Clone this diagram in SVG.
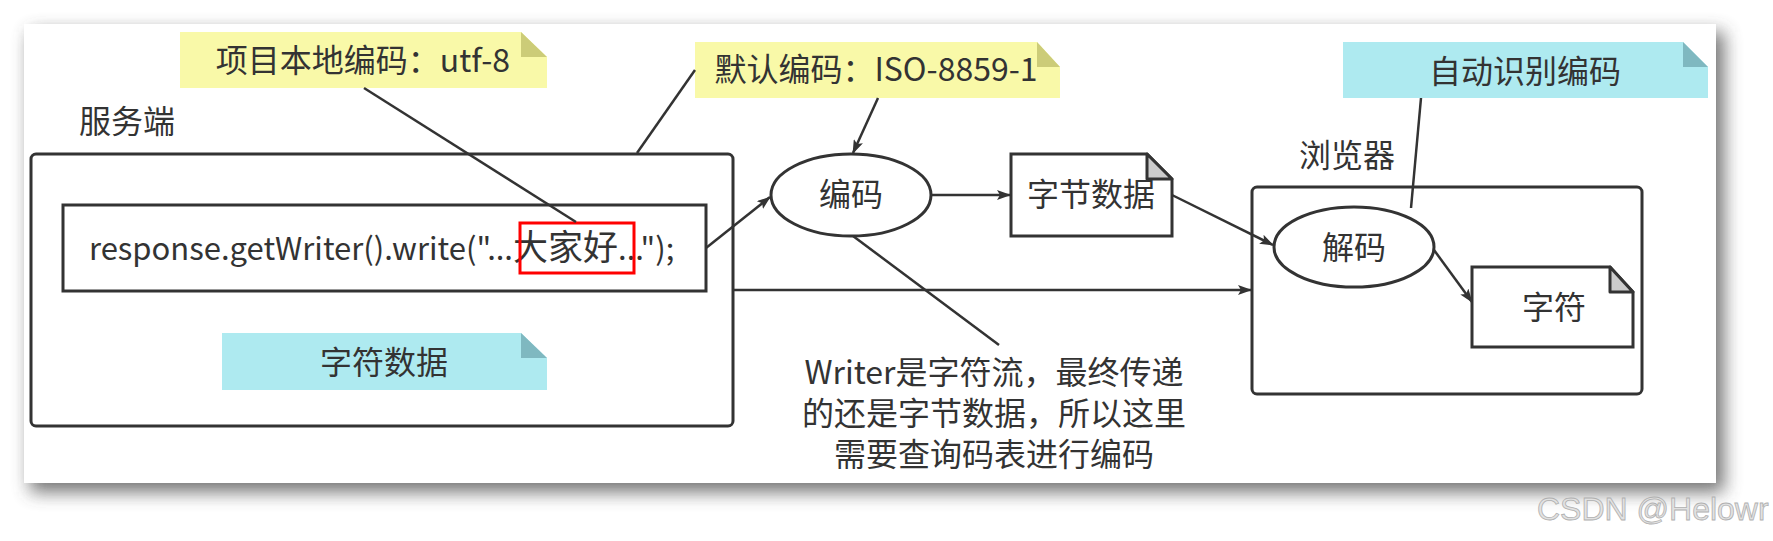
<svg xmlns="http://www.w3.org/2000/svg" width="1773" height="541" viewBox="0 0 1773 541">
<defs>
<filter id="shadow" x="-10%" y="-20%" width="120%" height="140%">
<feGaussianBlur stdDeviation="9"/>
</filter>
<marker id="arr" viewBox="0 0 14 10" refX="13" refY="5" markerWidth="14" markerHeight="10" orient="auto" markerUnits="userSpaceOnUse">
<path d="M0,0 L14,5 L0,10 L3,5 Z" fill="#333"/>
</marker>
</defs>
<style>
.t{font-family:"Microsoft YaHei","Noto Sans CJK SC","Noto Sans",sans-serif;font-size:32px;fill:#333;}
.c{text-anchor:middle;}
.box{fill:#fff;stroke:#333;stroke-width:3;}
.ln{fill:none;stroke:#333;stroke-width:2.5;}
.yl{fill:#f9f9a8;}
.yf{fill:#cccc78;}
.cy{fill:#aeeaf0;}
.cf{fill:#7fb8c0;}
</style>
<rect width="1773" height="541" fill="#fff"/>
<rect x="30" y="32" width="1694" height="460" fill="#444" opacity="0.75" filter="url(#shadow)"/>
<rect x="24" y="24" width="1692" height="459" fill="#fff"/>

<g id="server">
<text class="t c" x="127" y="133">服务端</text>
<rect class="box" x="31" y="154" width="702" height="272" rx="5"/>
</g>
<g id="code">
<rect class="box" x="63" y="205" width="643" height="86"/>
<text class="t" x="89" y="260" style="font-size:31px">response.getWriter().write("...<tspan style="font-size:35px">大家好</tspan>...");</text>
<rect x="520" y="223" width="114" height="50" fill="none" stroke="#f00" stroke-width="3"/>
</g>
<g id="note-utf8">
<path class="yl" d="M180,32 H521 L547,57 V88 H180 Z"/>
<path class="yf" d="M521,32 L547,57 H521 Z"/>
<text class="t c" x="363" y="72">项目本地编码：utf-8</text>
</g>
<g id="note-iso">
<path class="yl" d="M695,42 H1037 L1060,67 V98 H695 Z"/>
<path class="yf" d="M1037,42 L1060,67 H1037 Z"/>
<text class="t c" x="876" y="81">默认编码：ISO-8859-1</text>
</g>
<g id="note-chardata">
<path class="cy" d="M222,333 H521 L547,358 V390 H222 Z"/>
<path class="cf" d="M521,333 L547,358 H521 Z"/>
<text class="t c" x="384" y="374">字符数据</text>
</g>
<g id="encode">
<ellipse class="box" cx="851" cy="195" rx="80" ry="41"/>
<text class="t c" x="851" y="206">编码</text>
</g>
<g id="bytes">
<path class="box" d="M1011,154 H1147 L1172,179 V236 H1011 Z"/>
<path d="M1147,154 L1172,179 H1147 Z" fill="#ccc" stroke="#333" stroke-width="3" stroke-linejoin="round"/>
<text class="t c" x="1091" y="206">字节数据</text>
</g>
<g id="browser">
<text class="t c" x="1347" y="167">浏览器</text>
<rect class="box" x="1252" y="187" width="390" height="207" rx="5"/>
</g>
<g id="note-auto">
<path class="cy" d="M1343,42 H1683 L1708,67 V98 H1343 Z"/>
<path class="cf" d="M1683,42 L1708,67 H1683 Z"/>
<text class="t c" x="1525" y="83">自动识别编码</text>
</g>
<g id="decode">
<ellipse class="box" cx="1354" cy="247" rx="80" ry="40"/>
<text class="t c" x="1354" y="259">解码</text>
</g>
<g id="chars">
<path class="box" d="M1472,267 H1610 L1633,292 V347 H1472 Z"/>
<path d="M1610,267 L1633,292 H1610 Z" fill="#ccc" stroke="#333" stroke-width="3" stroke-linejoin="round"/>
<text class="t c" x="1554" y="319">字符</text>
</g>
<g id="comment">
<text class="t c" x="994" y="384">Writer是字符流，最终传递</text>
<text class="t c" x="994" y="425">的还是字节数据，所以这里</text>
<text class="t c" x="994" y="466">需要查询码表进行编码</text>
</g>
<g id="connectors">
<line class="ln" x1="364" y1="88" x2="576" y2="222"/>
<line class="ln" x1="695" y1="70" x2="637" y2="153"/>
<line class="ln" x1="878" y1="98" x2="853" y2="153" marker-end="url(#arr)"/>
<line class="ln" x1="706" y1="248" x2="770" y2="197" marker-end="url(#arr)"/>
<line class="ln" x1="931" y1="195" x2="1010" y2="195" marker-end="url(#arr)"/>
<line class="ln" x1="853" y1="236" x2="999" y2="345"/>
<line class="ln" x1="1172" y1="195" x2="1273" y2="245" marker-end="url(#arr)"/>
<line class="ln" x1="733" y1="290" x2="1251" y2="290" marker-end="url(#arr)"/>
<line class="ln" x1="1421" y1="98" x2="1411" y2="208"/>
<line class="ln" x1="1434" y1="250" x2="1472" y2="302" marker-end="url(#arr)"/>
</g>
<text x="1537" y="520" font-family="Liberation Sans, Arial, sans-serif" font-size="32" fill="#e2e2e2" stroke="#b0b0b0" stroke-width="0.8">CSDN @Helowr</text>
</svg>
